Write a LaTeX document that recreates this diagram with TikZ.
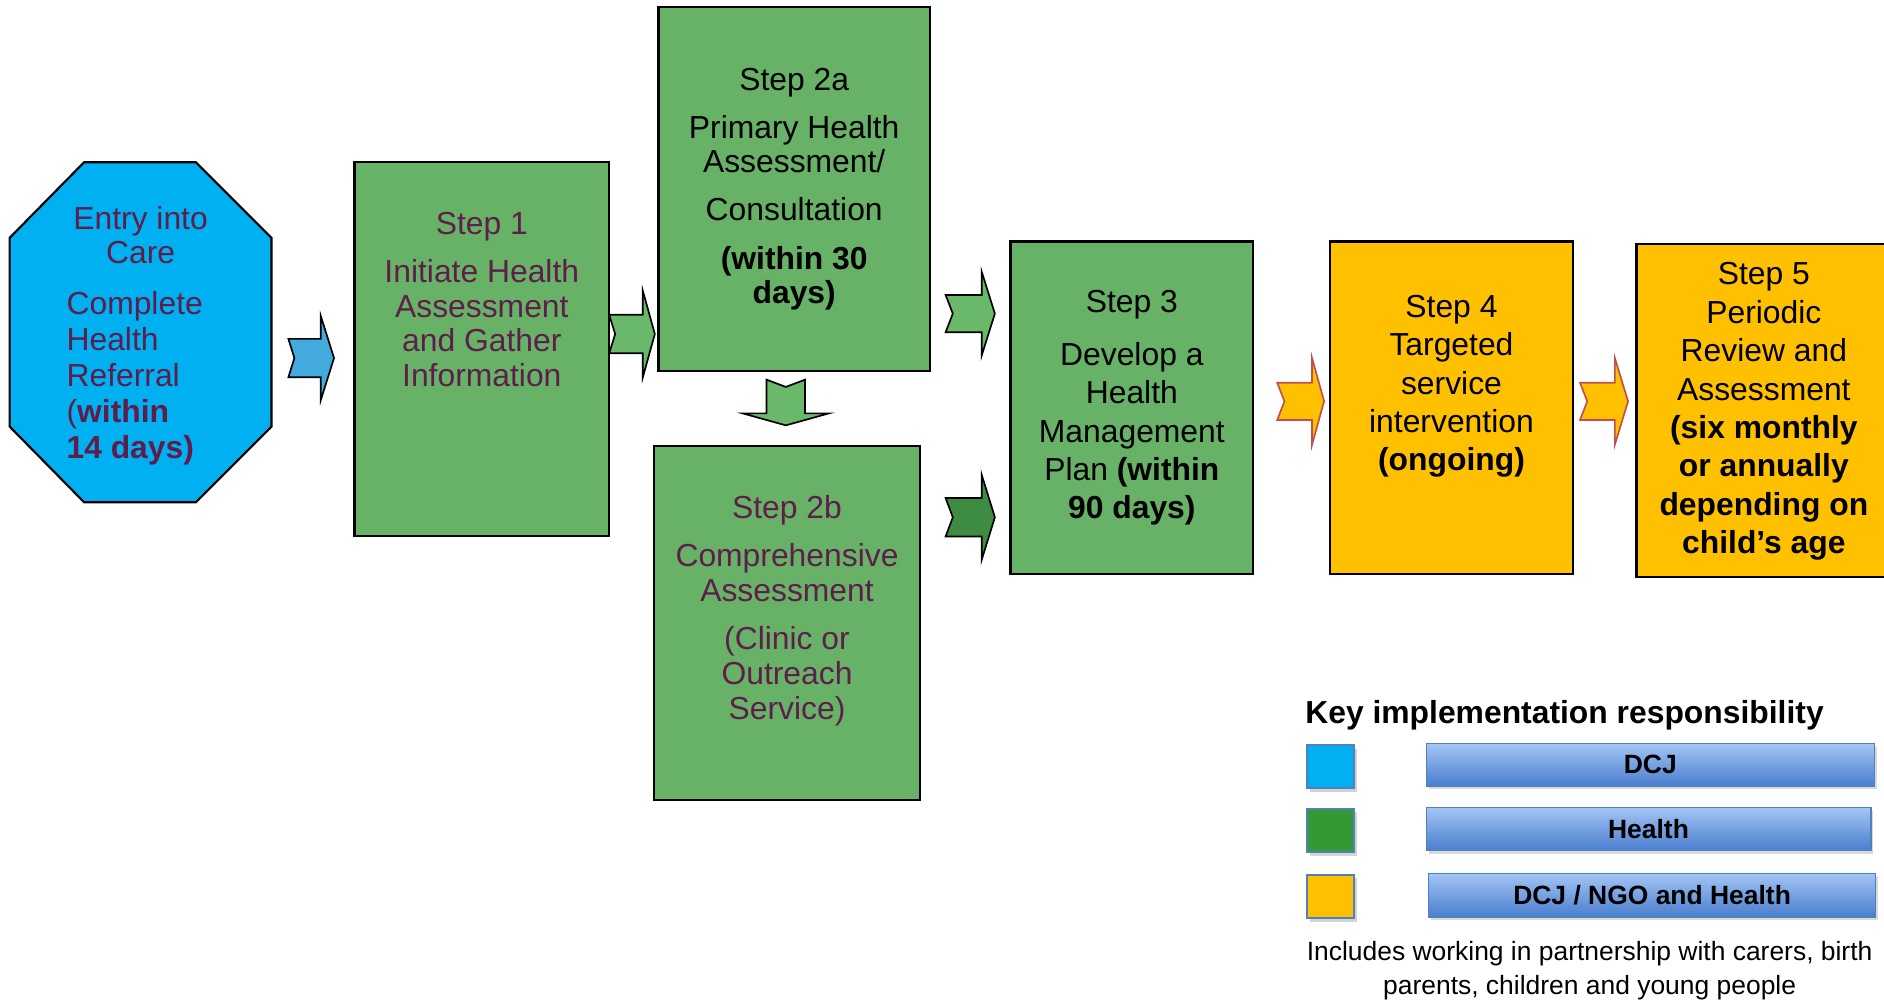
\documentclass[tikz,border=0pt]{standalone}
\usepackage{fontspec}
\setmainfont{Liberation Sans}
\usetikzlibrary{shadows}
\definecolor{cyanF}{RGB}{0,176,240}
\definecolor{purpleT}{RGB}{94,30,76}
\definecolor{greenF}{RGB}{104,178,104}
\definecolor{greenA}{RGB}{106,184,106}
\definecolor{dgreenA}{RGB}{62,140,66}
\definecolor{yellowF}{RGB}{255,192,0}
\definecolor{arrowRed}{RGB}{192,80,77}
\definecolor{blueA}{RGB}{66,170,220}
\definecolor{legGreen}{RGB}{51,153,51}
\definecolor{legBorder}{RGB}{79,129,189}
\definecolor{barTop}{RGB}{163,196,245}
\definecolor{barBot}{RGB}{74,126,205}
\newcommand\harrow[9]{\filldraw[fill=#1,draw=#2,line width=0.7pt] (#3,{#7-#8}) -- (#5,{#7-#8}) -- (#5,{#7-#9}) -- (#6,#7) -- (#5,{#7+#9}) -- (#5,{#7+#8}) -- (#3,{#7+#8}) -- (#4,#7) -- cycle;}
\newcommand\varrow[9]{\filldraw[fill=#1,draw=#2,line width=0.7pt] ({#7-#8},#3) -- ({#7-#8},#5) -- ({#7-#9},#5) -- (#7,#6) -- ({#7+#9},#5) -- ({#7+#8},#5) -- ({#7+#8},#3) -- (#7,#4) -- cycle;}
\tikzset{
  gbox/.style={draw=black, line width=0.9pt, fill=greenF, inner sep=0, outer sep=0},
  ybox/.style={draw=black, line width=0.9pt, fill=yellowF, inner sep=0, outer sep=0},
  txt/.style={inner sep=0, align=center, font=\fontsize{13.25}{14.5}\selectfont},
  txtw/.style={inner sep=0, align=center, font=\fontsize{13.25}{16}\selectfont},
  legsq/.style={draw=legBorder, line width=0.8pt, minimum width=19.5pt, minimum height=18pt, inner sep=0,
    drop shadow={opacity=0.35, shadow xshift=1pt, shadow yshift=-1.5pt}},
  bar/.style={draw=legBorder, line width=0.6pt, top color=barTop, bottom color=barBot, inner sep=0,
    minimum height=18pt, font=\bfseries\fontsize{11}{13}\selectfont,
    drop shadow={opacity=0.3, shadow xshift=1pt, shadow yshift=-1.5pt}}
}
\begin{document}
\begin{tikzpicture}[x=0.5pt,y=-0.5pt]
\useasboundingbox (0,0) rectangle (1568,832);

% Entry into care octagon
\filldraw[fill=cyanF, draw=black, line width=0.9pt]
  (70,135) -- (163,135) -- (226,198) -- (226,355) -- (163,418) -- (70,418) -- (8,355) -- (8,198) -- cycle;
\node[txt, text=purpleT, anchor=north] (entry) at (117,171) {Entry into\\Care};
\node[inner sep=0, align=left, text=purpleT, font=\fontsize{13.25}{15}\selectfont, anchor=north west] (referral) at (55,242)
  {Complete\\Health\\Referral\\(\textbf{within}\\\textbf{14 days)}};

% boxes
\node[gbox, minimum width=106pt, minimum height=155.5pt] (s1) at (401,290.5) {};
\node[gbox, minimum width=113pt, minimum height=151.5pt] (s2a) at (661,157.5) {};
\node[gbox, minimum width=111pt, minimum height=147.5pt] (s2b) at (655,518.5) {};
\node[gbox, minimum width=101pt, minimum height=138.5pt] (s3) at (942,339.5) {};
\node[ybox, minimum width=101pt, minimum height=138.5pt] (s4) at (1208,339.5) {};
\node[ybox, minimum width=107pt, minimum height=138.5pt] (s5) at (1469,341.5) {};

% box texts
\node[txt, text=purpleT, anchor=north] (t1) at (401,176)
  {Step 1\\[5.5pt]Initiate Health\\Assessment\\and Gather\\Information};
\node[txt, anchor=north] (t2a) at (661,56)
  {Step 2a\\[5.5pt]Primary Health\\Assessment/\\[5.5pt]Consultation\\[5.5pt]\textbf{(within 30}\\\textbf{days)}};
\node[txt, text=purpleT, anchor=north] (t2b) at (655,412)
  {Step 2b\\[5.5pt]Comprehensive\\Assessment\\[5.5pt](Clinic or\\Outreach\\Service)};
\node[txtw, anchor=north] (t3) at (942,241)
  {Step 3\\[6pt]Develop a\\Health\\Management\\Plan \textbf{(within}\\\textbf{90 days)}};
\node[txtw, anchor=north] (t4) at (1208,245)
  {Step 4\\Targeted\\service\\intervention\\\textbf{(ongoing)}};
\node[txtw, anchor=north] (t5) at (1468,218)
  {Step 5\\Periodic\\Review and\\Assessment\\\textbf{(six monthly}\\\textbf{or annually}\\\textbf{depending on}\\\textbf{child’s age}};

% notched block arrows
\harrow{blueA}{black}{240}{245}{267}{278}{298}{16}{35}
\harrow{greenA}{black}{507}{512}{535}{545}{278}{16}{36}
\harrow{greenA}{black}{787}{793}{817}{828}{261}{15.5}{35}
\harrow{dgreenA}{black}{787}{793}{817}{828}{430.5}{16}{35.5}
\harrow{yellowF}{arrowRed}{1063}{1069}{1092}{1102}{334}{15.5}{36}
\harrow{yellowF}{arrowRed}{1315}{1321}{1344}{1355}{334}{15.5}{36}
\varrow{greenA}{black}{316}{322}{344}{354}{654}{16}{36}

% legend
\node[anchor=base west, inner sep=0, font=\bfseries\fontsize{13.25}{16}\selectfont] (keyt) at (1086,602)
  {Key implementation responsibility};
\node[legsq, fill=cyanF] (k1) at (1107.5,638) {};
\node[legsq, fill=legGreen] (k2) at (1107.5,691) {};
\node[legsq, fill=yellowF] (k3) at (1107.5,746) {};
\node[bar, minimum width=186.5pt, minimum height=17.5pt] (b1) at (1373.5,636.5) {DCJ};
\node[bar, minimum width=185pt] (b2) at (1372,690) {Health};
\node[bar, minimum width=186pt] (b3) at (1375,745) {DCJ / NGO and Health};
\node[txt, font=\fontsize{11}{14}\selectfont, anchor=north] (note) at (1323,783)
  {Includes working in partnership with carers, birth\\parents, children and young people};
\end{tikzpicture}
\end{document}
